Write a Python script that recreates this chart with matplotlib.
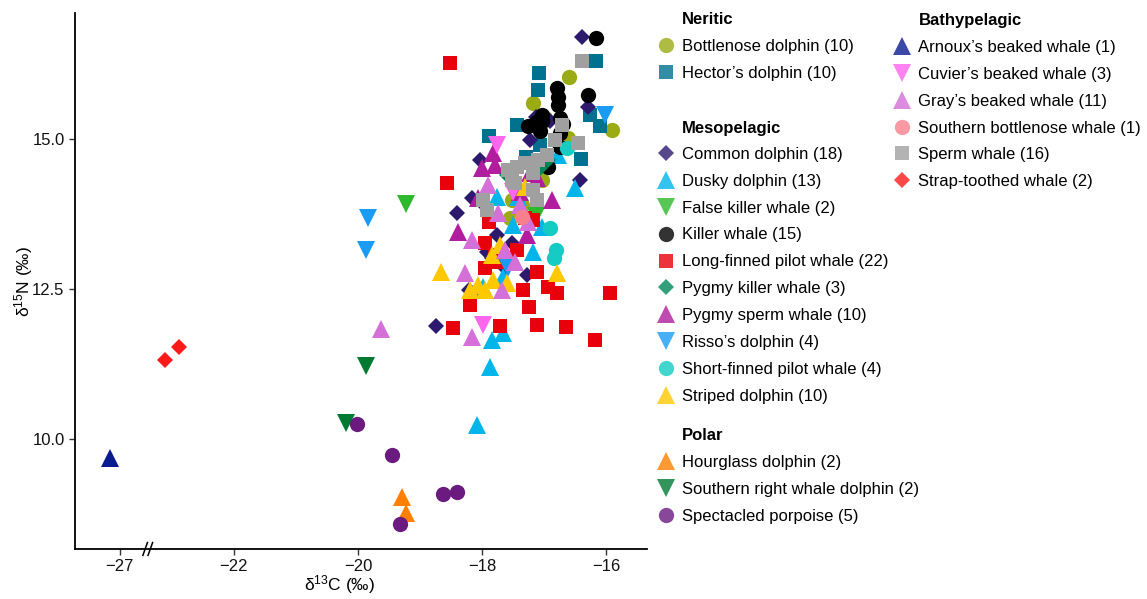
import numpy as np
import matplotlib
matplotlib.use("Agg")
import matplotlib.pyplot as plt
from matplotlib.lines import Line2D
from matplotlib.scale import FuncScale

plt.rcParams["font.family"] = ["Liberation Sans", "DejaVu Sans"]
plt.rcParams["mathtext.fontset"] = "custom"
plt.rcParams["mathtext.rm"] = "Liberation Sans"
plt.rcParams["mathtext.default"] = "regular"

# -----------------------------
# data: d13C, d15N per species
# -----------------------------
# Neritic
bottlenose_c = [-16.60, -17.18, -17.06, -15.90, -16.61, -17.03, -17.52, -17.55, -17.35, -16.98]
bottlenose_n = [16.03, 15.60, 15.23, 15.15, 15.02, 14.32, 13.98, 13.68, 13.90, 15.35]
hector_c = [-17.08, -17.10, -16.16, -17.44, -17.89, -17.29, -16.40, -16.26, -16.10, -17.06]
hector_n = [16.10, 15.82, 16.30, 15.23, 15.05, 14.70, 14.67, 15.40, 15.22, 14.90]

# Mesopelagic
common_c = [-16.39, -16.29, -17.13, -16.90, -18.03, -16.42, -18.16, -18.40, -17.76,
            -17.52, -17.92, -17.27, -18.21, -18.74, -17.84, -17.63, -17.97, -17.23]
common_n = [16.70, 15.53, 15.37, 15.30, 14.65, 14.32, 14.02, 13.77, 13.40,
            13.27, 13.12, 12.73, 12.48, 11.88, 13.02, 12.85, 13.90, 14.98]
dusky_c = [-16.50, -17.76, -17.42, -17.50, -17.03, -17.18, -17.66, -17.98, -17.66,
           -17.84, -17.87, -18.08, -16.77]
dusky_n = [14.18, 14.03, 14.03, 13.57, 13.53, 13.12, 12.70, 12.53, 11.77,
           11.65, 11.20, 10.23, 14.73]
false_killer_c = [-19.23, -17.13]
false_killer_n = [13.92, 13.72]
killer_c = [-16.16, -16.79, -16.77, -16.77, -16.29, -17.03, -17.03, -17.26, -17.06,
            -16.74, -16.69, -16.74, -16.74, -16.94, -17.13]
killer_n = [16.68, 15.85, 15.70, 15.57, 15.73, 15.40, 15.30, 15.22, 15.13,
            15.35, 15.25, 15.10, 14.87, 14.53, 15.28]
long_finned_c = [-18.52, -18.56, -17.89, -17.31, -17.18, -17.95, -17.44, -17.95, -17.11,
                 -17.34, -16.94, -16.79, -15.94, -18.19, -17.24, -18.47, -17.71, -17.11,
                 -16.65, -16.18, -17.79, -17.74]
long_finned_n = [16.27, 14.27, 13.62, 13.68, 13.65, 13.27, 13.15, 12.85, 12.78,
                 12.48, 12.53, 12.43, 12.43, 12.23, 12.20, 11.85, 11.88, 11.90,
                 11.87, 11.65, 13.07, 12.95]
pygmy_killer_c = [-17.06, -17.60, -16.94]
pygmy_killer_n = [14.52, 14.40, 14.65]
pygmy_sperm_c = [-17.82, -18.00, -17.79, -17.23, -17.11, -17.39, -18.06, -16.87, -18.39, -17.27]
pygmy_sperm_n = [14.77, 14.52, 14.57, 14.43, 14.35, 14.12, 14.02, 13.98, 13.45, 13.40]
risso_c = [-19.84, -19.87, -16.02, -17.58]
risso_n = [13.68, 13.15, 15.40, 12.85]
short_finned_c = [-16.63, -16.90, -16.81, -16.84]
short_finned_n = [14.85, 13.52, 13.15, 13.02]
striped_c = [-18.66, -17.84, -17.71, -16.79, -18.06, -17.95, -17.60, -17.82, -17.31, -18.19]
striped_n = [12.78, 13.07, 13.23, 12.77, 12.57, 12.48, 12.60, 12.65, 14.20, 12.48]

# Polar
hourglass_c = [-19.29, -19.23]
hourglass_n = [9.03, 8.77]
right_whale_dolphin_c = [-19.87, -20.19]
right_whale_dolphin_n = [11.22, 10.27]
spectacled_c = [-20.02, -19.45, -18.63, -18.40, -19.32]
spectacled_n = [10.25, 9.73, 9.08, 9.12, 8.58]

# Bathypelagic
arnoux_c = [-27.16]
arnoux_n = [9.68]
cuvier_c = [-17.76, -17.98, -17.50]
cuvier_n = [14.90, 11.90, 14.12]
gray_c = [-19.63, -18.16, -18.27, -18.16, -17.90, -17.63, -17.47, -17.68, -17.74, -17.26, -17.39]
gray_n = [11.83, 11.70, 12.77, 13.32, 14.23, 13.15, 12.95, 12.48, 13.77, 13.62, 13.90]
s_bottlenose_c = [-17.35]
s_bottlenose_n = [13.70]
sperm_c = [-16.39, -16.71, -16.45, -16.95, -17.10, -17.44, -17.58, -17.52, -17.18,
           -17.47, -17.18, -17.98, -17.92, -17.11, -17.31, -16.82]
sperm_n = [16.30, 15.23, 14.93, 14.73, 14.65, 14.53, 14.48, 14.32, 14.43,
           14.27, 14.15, 13.98, 13.82, 13.98, 14.60, 14.98]
strap_c = [-23.11, -22.89]
strap_n = [11.32, 11.53]

x_ticks = [-27, -22, -20, -18, -16]
y_ticks = [10.0, 12.5, 15.0]

# (label, marker, size, colour, x, y)
groups = {
    "Neritic": [
        ("Bottlenose dolphin (10)", "o", 11, "#9aab14", bottlenose_c, bottlenose_n),
        ("Hector’s dolphin (10)", "s", 10, "#00718f", hector_c, hector_n),
    ],
    "Mesopelagic": [
        ("Common dolphin (18)", "D", 8.5, "#2d1a6e", common_c, common_n),
        ("Dusky dolphin (13)", "^", 12.5, "#00b5ea", dusky_c, dusky_n),
        ("False killer whale (2)", "v", 12.5, "#2db82d", false_killer_c, false_killer_n),
        ("Killer whale (15)", "o", 11, "#000000", killer_c, killer_n),
        ("Long-finned pilot whale (22)", "s", 10, "#e8000b", long_finned_c, long_finned_n),
        ("Pygmy killer whale (3)", "D", 8.5, "#00875a", pygmy_killer_c, pygmy_killer_n),
        ("Pygmy sperm whale (10)", "^", 12.5, "#b01e9e", pygmy_sperm_c, pygmy_sperm_n),
        ("Risso’s dolphin (4)", "v", 12.5, "#1a9cf5", risso_c, risso_n),
        ("Short-finned pilot whale (4)", "o", 11, "#14ccc4", short_finned_c, short_finned_n),
        ("Striped dolphin (10)", "^", 12.5, "#ffc800", striped_c, striped_n),
    ],
    "Polar": [
        ("Hourglass dolphin (2)", "^", 12.5, "#ff8000", hourglass_c, hourglass_n),
        ("Southern right whale dolphin (2)", "v", 12.5, "#007a33", right_whale_dolphin_c, right_whale_dolphin_n),
        ("Spectacled porpoise (5)", "o", 11, "#6b1a80", spectacled_c, spectacled_n),
    ],
    "Bathypelagic": [
        ("Arnoux’s beaked whale (1)", "^", 12.5, "#0a1a8f", arnoux_c, arnoux_n),
        ("Cuvier’s beaked whale (3)", "v", 12.5, "#ff66ee", cuvier_c, cuvier_n),
        ("Gray’s beaked whale (11)", "^", 12.5, "#d470d8", gray_c, gray_n),
        ("Southern bottlenose whale (1)", "o", 11, "#f7808c", s_bottlenose_c, s_bottlenose_n),
        ("Sperm whale (16)", "s", 10, "#a0a0a0", sperm_c, sperm_n),
        ("Strap-toothed whale (2)", "D", 8.5, "#ff1a1a", strap_c, strap_n),
    ],
}

# -----------------------------
# broken x axis: squeeze the empty stretch between -26.55 and -23.38
# -----------------------------
XP = [-100.0, -26.55, -23.38, 100.0]
TP = [-96.84, -23.39, -23.38, 100.0]


def fwd(x):
    return np.interp(x, XP, TP)


def inv(t):
    return np.interp(t, TP, XP)


fig = plt.figure(figsize=(11.47, 5.99), dpi=100)
ax = fig.add_axes([0.0654, 0.0835, 0.4987, 0.8948])
ax.set_xscale(FuncScale(ax, (fwd, inv)))

for gname, rows in groups.items():
    for label, mk, ms, col, xs, ys in rows:
        ax.plot(xs, ys, linestyle="none", marker=mk, markersize=ms,
                color=col, markeredgewidth=0)

ax.set_xlim(-27.72, -15.34)
ax.set_ylim(8.17, 17.1)
ax.set_xticks(x_ticks)
ax.set_xticklabels([f"{t:d}".replace("-", "\u2212") for t in x_ticks])
ax.set_yticks(y_ticks)
ax.set_yticklabels([f"{t:.1f}" for t in y_ticks])
ax.xaxis.set_minor_locator(matplotlib.ticker.NullLocator())
ax.tick_params(labelsize=12, length=4, width=1, color="#333333", labelcolor="#111111")

for s in ["top", "right"]:
    ax.spines[s].set_visible(False)
for s in ["left", "bottom"]:
    ax.spines[s].set_linewidth(1.3)

ax.set_xlabel("δ$^{13}$C (‰)", fontsize=12.5, labelpad=4)
ax.xaxis.set_label_coords(0.463, -0.045)
ax.set_ylabel("δ$^{15}$N (‰)", fontsize=12.5)
ax.yaxis.set_label_coords(-0.07, 0.5)

# axis break mark
bx = (148 - 75) / 572
for dx in (-0.005, 0.004):
    ax.plot([bx + dx - 0.004, bx + dx + 0.004], [-0.012, 0.012], color="black",
            lw=1.1, transform=ax.transAxes, clip_on=False)

# -----------------------------
# legend: one block per habitat
# -----------------------------
legend_spots = {
    "Neritic": (682, 20, 657.8, 39),
    "Mesopelagic": (682, 128, 657.8, 147),
    "Polar": (682, 435, 657.8, 455),
    "Bathypelagic": (919, 21, 893.8, 40),
}
W, H = 1147, 599
for gname, rows in groups.items():
    tx, ty, lx, ly = legend_spots[gname]
    fig.text(tx / W, 1 - ty / H, gname, fontsize=12, fontweight="bold", va="center", ha="left")
    handles = [Line2D([], [], linestyle="none", marker=mk, markersize=ms, color=col,
                      markeredgewidth=0, alpha=0.8) for _, mk, ms, col, _, _ in rows]
    labels = [r[0] for r in rows]
    leg = fig.legend(handles, labels, loc="upper left", bbox_to_anchor=(lx / W, 1 - ly / H),
                     frameon=False, fontsize=12, borderpad=0, borderaxespad=0,
                     handlelength=1.0, handletextpad=0.45, labelspacing=0.71)

fig.savefig("out.png", dpi=100)
